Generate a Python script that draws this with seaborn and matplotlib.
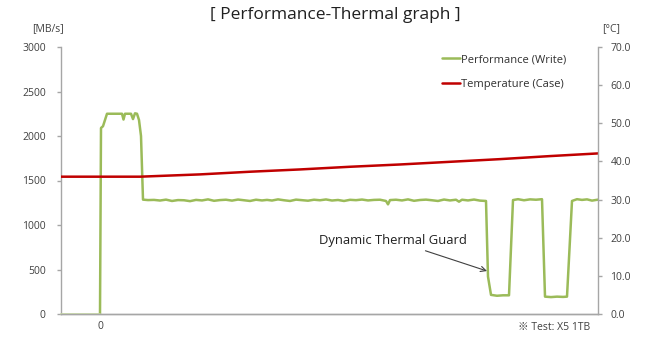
import matplotlib
matplotlib.use("Agg")
import matplotlib.pyplot as plt
import seaborn as sns
import pandas as pd

# ---- data ----
pre_time = [-39, 0]
pre_perf = [0, 0]

perf_time = [0, 1, 3, 7, 22, 23.5, 25, 31, 33, 35, 37, 39, 41, 43,
             48, 54, 60, 66, 72, 78, 84, 90, 96, 102, 108, 114, 120, 126, 132,
             138, 144, 150, 156, 162, 167, 172, 178, 184, 190, 196, 202, 208,
             214, 220, 226, 232, 238, 244, 250, 256, 262, 268, 274, 280, 286,
             288, 290, 296, 302, 308, 314, 320, 326, 332, 338, 344, 350, 356,
             359, 362, 368, 374, 380, 386,
             388, 391, 397, 403, 409, 413, 418, 424, 430, 436, 442,
             445, 451, 457, 463, 467, 472, 477, 482, 487, 492, 498]
perf_mbps = [0, 2090, 2110, 2250, 2250, 2185, 2250, 2250, 2190, 2255, 2250, 2180, 2000, 1285,
             1280, 1282, 1275, 1285, 1270, 1280, 1278, 1268, 1282, 1276, 1288, 1272, 1280, 1284, 1274,
             1286, 1278, 1270, 1284, 1276, 1282, 1275, 1288, 1278, 1270, 1285, 1279, 1273,
             1284, 1278, 1287, 1275, 1281, 1270, 1283, 1279, 1286, 1276, 1282, 1284, 1270,
             1232, 1280, 1284, 1276, 1288, 1272, 1281, 1285, 1278, 1270, 1286, 1276, 1284,
             1262, 1284, 1276, 1286, 1274, 1270,
             420, 215, 205, 210, 210, 1280, 1290, 1278, 1288, 1284, 1290,
             195, 190, 195, 192, 195, 1270, 1290, 1282, 1288, 1274, 1285]

temp_time = [-39, 40, 60, 100, 150, 200, 250, 300, 350, 400, 450, 498]
temp_c = [36.0, 36.0, 36.2, 36.6, 37.3, 37.9, 38.6, 39.2, 39.9, 40.6, 41.4, 42.1]

left_ticks = [0, 500, 1000, 1500, 2000, 2500, 3000]
right_ticks = [0, 10, 20, 30, 40, 50, 60, 70]

GREEN = "#9BBB59"
RED = "#C00000"
GRAY = "#A6A6A6"
TXT = "#404040"

sns.set_theme(style="white")
plt.rcParams["font.family"] = ["Open Sans", "Noto Sans CJK KR", "DejaVu Sans"]

fig = plt.figure(figsize=(6.45, 3.45), dpi=100)
ax = fig.add_axes([61 / 645, 1 - 314 / 345, (598 - 61) / 645, (314 - 47) / 345])
ax2 = ax.twinx()

df_pre = pd.DataFrame({"t": pre_time, "v": pre_perf})
df_perf = pd.DataFrame({"t": perf_time, "v": perf_mbps})
df_temp = pd.DataFrame({"t": temp_time, "v": temp_c})

sns.lineplot(data=df_pre, x="t", y="v", ax=ax, color="#C9DBA3", lw=1.2, legend=False,
             zorder=3, clip_on=False)
sns.lineplot(data=df_perf, x="t", y="v", ax=ax, color=GREEN, lw=1.8,
             label="Performance (Write)", legend=False)
sns.lineplot(data=df_temp, x="t", y="v", ax=ax2, color=RED, lw=1.8,
             label="Temperature (Case)", legend=False)

ax.set_xlim(-39, 498)
ax.set_ylim(0, 3000)
ax2.set_ylim(0, 70)
ax.set_yticks(left_ticks)
ax2.set_yticks(right_ticks)
ax2.set_yticklabels([f"{v:.1f}" for v in right_ticks])
ax.set_xticks([0])
ax.set_xticklabels(["0"])
ax.set_xlabel("")
ax.set_ylabel("")
ax2.set_ylabel("")

for a in (ax, ax2):
    for s in a.spines.values():
        s.set_color(GRAY)
        s.set_linewidth(1.0)
    a.spines["top"].set_visible(False)
    a.tick_params(axis="both", labelsize=7.5, labelcolor=TXT, color=GRAY,
                  length=3, width=1, direction="out")
ax.tick_params(axis="x", length=0, pad=5)
ax.tick_params(axis="y", pad=8)
ax2.tick_params(axis="y", pad=6)
ax2.spines["left"].set_visible(False)
ax.spines["right"].set_visible(False)

fig.text(335 / 645, 1 - 15 / 345, "[ Performance-Thermal graph ]", ha="center", va="center",
         fontsize=12.5, color="#202020")
fig.text(48 / 645, 1 - 29 / 345, "[MB/s]", ha="center", va="center", fontsize=7.5, color=TXT)
fig.text(611 / 645, 1 - 29 / 345, "[°C]", ha="center", va="center", fontsize=7.5, color=TXT)
fig.text(590 / 645, 1 - 327 / 345, "※ Test: X5 1TB", ha="right", va="center",
         fontsize=7.5, color=TXT)

ax.annotate("Dynamic Thermal Guard", xy=(387, 483), xytext=(367, 830),
            textcoords="data", ha="right", va="center", fontsize=9.4, color="#202020",
            arrowprops=dict(arrowstyle="->", color="#404040", lw=0.8,
                            shrinkA=2, shrinkB=0))

h1, l1 = ax.get_legend_handles_labels()
h2, l2 = ax2.get_legend_handles_labels()
leg = ax2.legend(h1 + h2, l1 + l2, loc="upper right", bbox_to_anchor=(0.96, 1.01),
                 frameon=False, fontsize=8, handlelength=1.6, handletextpad=0.1,
                 labelspacing=1.2)
for t in leg.get_texts():
    t.set_color("#303030")

fig.savefig("out.png", dpi=100)
